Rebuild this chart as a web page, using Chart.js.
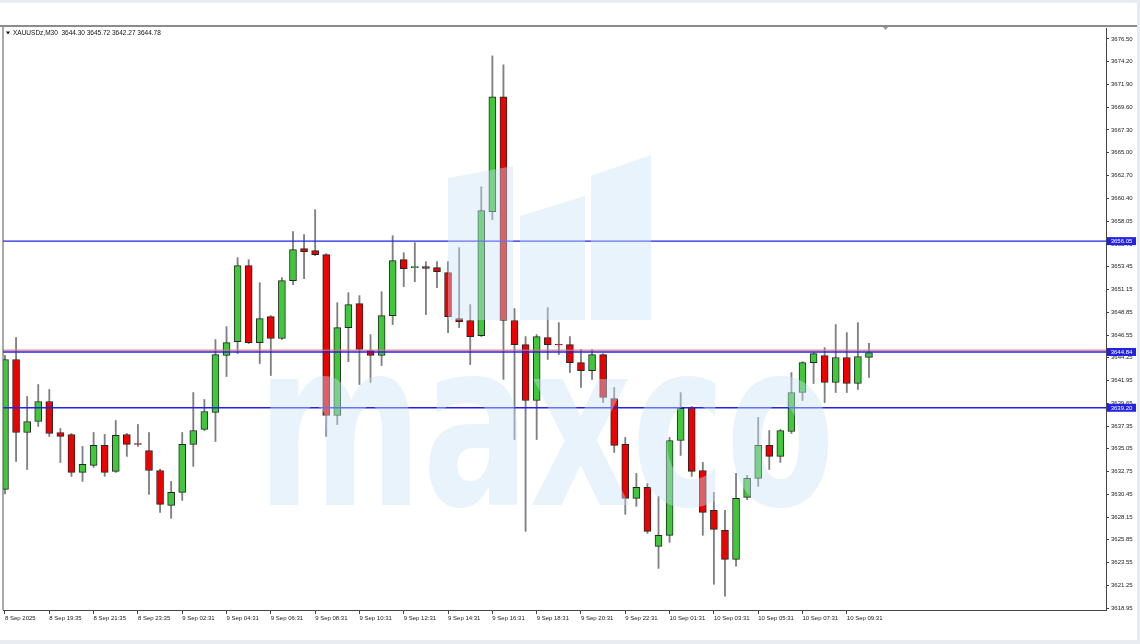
<!DOCTYPE html>
<html>
<head>
<meta charset="utf-8">
<script src="https://cdn.jsdelivr.net/npm/chart.js@4.4.1/dist/chart.umd.min.js"></script>
<style>
  html, body { margin: 0; padding: 0; background: #e9edf2; }
  canvas { display: block; }
</style>
</head>
<body>
<canvas id="chart" width="1140" height="644"></canvas>
<script>
const symbolTitle = 'XAUUSDz,M30  3644.30 3645.72 3642.27 3644.78';

// one label every 4 bars (M30)
const xTickLabels = ['8 Sep 2025', '8 Sep 19:35', '8 Sep 21:35', '8 Sep 23:35', '9 Sep 02:31', '9 Sep 04:31',
  '9 Sep 06:31', '9 Sep 08:31', '9 Sep 10:31', '9 Sep 12:31', '9 Sep 14:31', '9 Sep 16:31', '9 Sep 18:31',
  '9 Sep 20:31', '9 Sep 22:31', '10 Sep 01:31', '10 Sep 03:31', '10 Sep 05:31', '10 Sep 07:31', '10 Sep 09:31'];

const yTickLabels = [3676.50, 3674.20, 3671.90, 3669.60, 3667.30, 3665.00, 3662.70, 3660.40, 3658.05, 3655.75,
  3653.45, 3651.15, 3648.85, 3646.55, 3644.25, 3641.95, 3639.65, 3637.35, 3635.05, 3632.75, 3630.45, 3628.15,
  3625.85, 3623.55, 3621.25, 3618.95];

const opens = [3630.94, 3644.08, 3636.70, 3637.81, 3639.83, 3636.70, 3636.50, 3632.66, 3633.37, 3635.39,
  3632.76, 3636.50, 3635.59, 3634.88, 3632.86, 3629.33, 3630.64, 3635.49, 3637.01, 3638.72,
  3644.48, 3645.89, 3653.57, 3645.79, 3648.42, 3646.20, 3652.06, 3655.29, 3655.09, 3654.68,
  3638.42, 3647.31, 3649.73, 3644.98, 3644.48, 3648.52, 3654.18, 3653.37, 3653.47, 3653.37,
  3652.86, 3648.22, 3648.02, 3646.50, 3659.03, 3670.64, 3648.02, 3645.59, 3639.93, 3646.30,
  3645.62, 3645.59, 3643.77, 3642.96, 3644.58, 3640.14, 3635.49, 3630.04, 3631.15, 3625.19,
  3626.30, 3635.89, 3639.23, 3632.86, 3628.82, 3626.80, 3623.87, 3630.14, 3632.06, 3635.39,
  3634.28, 3636.80, 3640.74, 3643.77, 3644.48, 3641.75, 3644.28, 3641.65, 3644.30];
const highs = [3644.50, 3646.30, 3640.34, 3641.55, 3641.05, 3637.11, 3636.60, 3635.29, 3636.70, 3636.50,
  3637.91, 3636.60, 3637.51, 3636.70, 3633.00, 3631.75, 3636.70, 3640.74, 3640.04, 3646.10,
  3647.41, 3654.38, 3654.18, 3651.85, 3648.52, 3652.36, 3657.01, 3656.70, 3659.23, 3654.78,
  3649.83, 3650.84, 3650.54, 3646.60, 3650.94, 3656.60, 3654.88, 3655.89, 3653.97, 3653.97,
  3653.97, 3655.39, 3649.63, 3661.55, 3674.78, 3673.87, 3649.23, 3646.40, 3646.60, 3649.33,
  3647.81, 3646.40, 3645.09, 3645.09, 3644.68, 3641.25, 3636.20, 3632.56, 3631.55, 3630.24,
  3636.20, 3640.74, 3639.33, 3633.67, 3630.64, 3628.82, 3632.56, 3632.36, 3638.22, 3636.90,
  3637.00, 3642.76, 3643.87, 3644.78, 3645.29, 3647.61, 3646.80, 3647.81, 3645.72];
const lows = [3630.50, 3633.77, 3632.96, 3637.31, 3636.30, 3633.67, 3632.26, 3631.75, 3633.17, 3632.26,
  3632.66, 3634.28, 3635.29, 3630.44, 3628.62, 3628.02, 3629.83, 3633.27, 3636.90, 3635.79,
  3642.36, 3644.68, 3645.69, 3643.67, 3642.46, 3646.10, 3651.65, 3652.26, 3654.58, 3636.30,
  3637.51, 3643.87, 3641.55, 3641.75, 3643.47, 3647.61, 3651.45, 3651.95, 3648.62, 3651.35,
  3646.80, 3647.31, 3643.57, 3646.40, 3658.22, 3642.06, 3635.99, 3626.70, 3635.99, 3644.08,
  3644.58, 3642.76, 3641.25, 3642.06, 3639.73, 3634.68, 3628.42, 3629.23, 3626.50, 3622.96,
  3625.59, 3634.38, 3632.26, 3626.30, 3621.35, 3620.14, 3623.17, 3629.90, 3631.25, 3632.96,
  3633.67, 3636.60, 3639.93, 3641.65, 3639.73, 3640.74, 3640.74, 3641.05, 3642.27];
const closes = [3644.08, 3636.70, 3637.81, 3639.83, 3636.60, 3636.30, 3632.66, 3633.47, 3635.39, 3632.66,
  3636.40, 3635.49, 3635.49, 3632.86, 3629.43, 3630.64, 3635.49, 3636.90, 3638.82, 3644.58,
  3645.79, 3653.57, 3645.79, 3648.22, 3646.20, 3652.06, 3655.19, 3654.98, 3654.68, 3638.42,
  3647.31, 3649.63, 3645.09, 3644.48, 3648.52, 3654.08, 3653.27, 3653.47, 3653.30, 3652.96,
  3648.42, 3647.91, 3646.40, 3659.13, 3670.64, 3648.02, 3645.59, 3639.93, 3646.40, 3645.59,
  3645.56, 3643.77, 3642.96, 3644.58, 3640.24, 3635.39, 3630.04, 3631.15, 3626.70, 3626.30,
  3635.89, 3639.13, 3632.76, 3628.62, 3626.90, 3623.87, 3630.04, 3632.06, 3635.39, 3634.28,
  3636.90, 3640.74, 3643.77, 3644.68, 3641.75, 3644.28, 3641.65, 3644.38, 3644.78];

const levels = [3656.05, 3644.84, 3639.20];
const askLevel = 3645.02;

const X_MIN = -0.18, X_MAX = 99.4;
const Y_MIN = 3618.75, Y_MAX = 3677.6;
const GREEN = '#3ec83a';
const RED = '#ec0000';
const BLUE = '#2222e6';

const idx = opens.map((_, i) => i);
const bodies = idx.map(i => ({ x: i, y: [opens[i], closes[i]] }));
const wicks = idx.map(i => ({ x: i, y: [lows[i], highs[i]] }));
const bodyColors = idx.map(i => closes[i] >= opens[i] ? GREEN : RED);

const levelSets = levels.map(lv => ({
    type: 'line',
    data: [{ x: X_MIN, y: lv }, { x: X_MAX, y: lv }],
    borderColor: BLUE,
    borderWidth: 1.3,
    pointRadius: 0,
    order: 0
}));
levelSets.push({
    type: 'line',
    data: [{ x: X_MIN, y: askLevel }, { x: X_MAX, y: askLevel }],
    borderColor: 'rgba(225,110,110,0.75)',
    borderWidth: 1.6,
    pointRadius: 0,
    order: 1
});

const frame = {
    id: 'frame',
    beforeDraw(chart) {
        const ctx = chart.ctx;
        ctx.save();
        ctx.fillStyle = '#e9edf2';
        ctx.fillRect(0, 0, 1140, 644);
        ctx.fillStyle = '#ffffff';
        ctx.fillRect(0, 3, 1137, 637);
        ctx.restore();
    },
    afterDatasetsDraw(chart) {
        // maxco watermark, drawn over the candles
        const ctx = chart.ctx;
        const a = chart.chartArea;
        ctx.save();
        ctx.beginPath();
        ctx.rect(a.left, a.top, a.right - a.left, a.bottom - a.top);
        ctx.clip();
        ctx.fillStyle = 'rgba(200,226,246,0.42)';
        const blocks = [
            [[448, 178], [513, 166], [513, 320], [448, 320]],
            [[520, 216], [585, 196], [585, 320], [520, 320]],
            [[591, 176], [651, 155], [651, 320], [591, 320]]
        ];
        blocks.forEach(b => {
            ctx.beginPath();
            ctx.moveTo(b[0][0], b[0][1]);
            b.slice(1).forEach(p => ctx.lineTo(p[0], p[1]));
            ctx.closePath();
            ctx.fill();
        });
        ctx.font = 'bold 200px "DejaVu Sans"';
        const m = ctx.measureText('maxco');
        const w = m.actualBoundingBoxLeft + m.actualBoundingBoxRight;
        const h = m.actualBoundingBoxAscent + m.actualBoundingBoxDescent;
        ctx.translate(270, 376);
        ctx.scale(558 / w, 132 / h);
        ctx.textBaseline = 'alphabetic';
        ctx.fillText('maxco', m.actualBoundingBoxLeft, m.actualBoundingBoxAscent);
        ctx.restore();
    },
    afterDraw(chart) {
        const ctx = chart.ctx;
        const a = chart.chartArea;
        const ys = chart.scales.y;
        ctx.save();
        // top rule and left edge
        ctx.fillStyle = '#8c8c8c';
        ctx.fillRect(0, 25, 1137, 2);
        ctx.fillStyle = '#555';
        ctx.fillRect(a.left - 0.5, 27, 1, a.bottom - 27);
        // shift marker
        ctx.fillStyle = '#999';
        ctx.beginPath();
        ctx.moveTo(883, 27); ctx.lineTo(888, 27); ctx.lineTo(885.5, 30);
        ctx.closePath(); ctx.fill();
        // title
        ctx.fillStyle = '#111';
        ctx.beginPath();
        ctx.moveTo(6, 31.5); ctx.lineTo(10, 31.5); ctx.lineTo(8, 34.5);
        ctx.closePath(); ctx.fill();
        ctx.font = '6.5px "Liberation Sans"';
        ctx.textBaseline = 'middle';
        ctx.fillText(symbolTitle, 13, 33.5);
        // level boxes on the price axis
        ctx.font = '6px "Liberation Sans"';
        ctx.textAlign = 'center';
        levels.forEach(lv => {
            const py = ys.getPixelForValue(lv);
            ctx.fillStyle = BLUE;
            ctx.fillRect(a.right + 1, py - 4, 29, 8);
            ctx.fillStyle = '#ffffff';
            ctx.fillText(lv.toFixed(2), a.right + 15.5, py + 0.5);
        });
        ctx.restore();
    }
};

new Chart(document.getElementById('chart'), {
    type: 'bar',
    data: {
        datasets: [
            ...levelSets,
            {
                type: 'bar',
                data: bodies,
                backgroundColor: bodyColors,
                borderColor: '#262626',
                borderWidth: 1,
                borderSkipped: false,
                barThickness: 7,
                grouped: false,
                order: 2
            },
            {
                type: 'bar',
                data: wicks,
                backgroundColor: '#808080',
                barThickness: 1.2,
                grouped: false,
                order: 3
            }
        ]
    },
    options: {
        responsive: false,
        animation: false,
        events: [],
        layout: { padding: { left: 3, top: 28, right: 3, bottom: 4 } },
        plugins: { legend: { display: false }, tooltip: { enabled: false } },
        scales: {
            x: {
                type: 'linear',
                min: X_MIN,
                max: X_MAX,
                offset: false,
                bounds: 'data',
                grid: { drawOnChartArea: false, drawTicks: true, tickLength: 4, color: '#444', offset: false },
                border: { display: true, color: '#444' },
                afterBuildTicks: s => { s.ticks = xTickLabels.map((_, k) => ({ value: k * 4 })); },
                afterFit: s => { s.height = 30; },
                ticks: {
                    autoSkip: false,
                    maxRotation: 0,
                    align: 'start',
                    padding: 1,
                    color: '#222',
                    font: { family: 'Liberation Sans', size: 6 },
                    callback: v => xTickLabels[Math.round(v / 4)]
                }
            },
            y: {
                position: 'right',
                min: Y_MIN,
                max: Y_MAX,
                beginAtZero: false,
                bounds: 'data',
                grid: { drawOnChartArea: false, drawTicks: true, tickLength: 3, color: '#444' },
                border: { display: true, color: '#444' },
                afterBuildTicks: s => { s.ticks = yTickLabels.map(v => ({ value: v })); },
                afterFit: s => { s.width = 31; },
                ticks: {
                    autoSkip: false,
                    padding: 2,
                    color: '#222',
                    font: { family: 'Liberation Sans', size: 6 },
                    callback: v => Number(v).toFixed(2)
                }
            }
        }
    },
    plugins: [frame]
});
</script>
</body>
</html>
